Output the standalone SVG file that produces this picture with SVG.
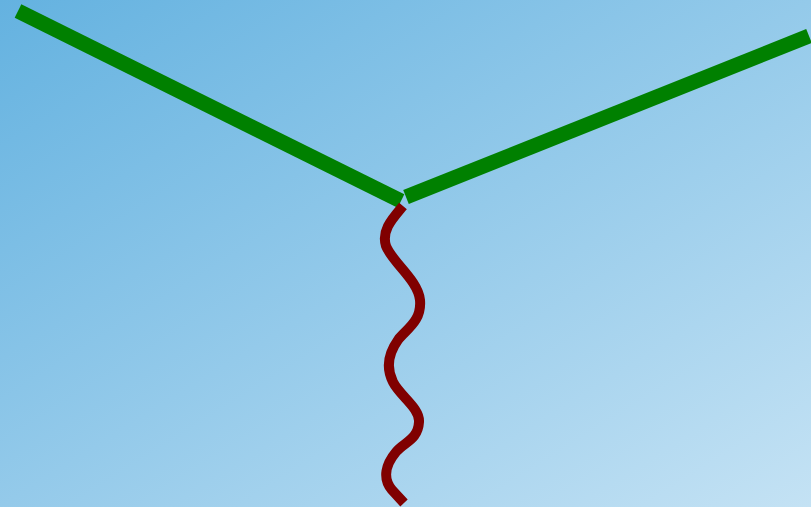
<svg xmlns="http://www.w3.org/2000/svg" width="811" height="507" viewBox="0 0 811 507">
<defs>
<linearGradient id="bg" x1="0" y1="0" x2="1" y2="1">
<stop offset="0" stop-color="#64b2e0"/>
<stop offset="1" stop-color="#c4e2f4"/>
</linearGradient>
<style>
.fermion{stroke:#008000;stroke-width:15;fill:none;stroke-linecap:butt}
.boson{stroke:#800000;stroke-width:10;fill:none;stroke-linecap:butt}
</style>
</defs>
<rect width="811" height="507" fill="url(#bg)"/>
<g id="connectors">
<line id="left-line" class="fermion" x1="18" y1="11" x2="401" y2="201"/>
<line id="right-line" class="fermion" x1="406" y1="197" x2="809" y2="36"/>
<path id="wavy" class="boson" d="M 403,206 C 393,218 381,230 386,246 C 392,262 418,280 420,300 C 422,322 405,330 398,340 C 388,354 386,368 393,382 C 400,396 420,408 419,422 C 418,440 404,442 396,452 C 386,464 382,478 392,490 L 404,503"/>
</g>
</svg>
